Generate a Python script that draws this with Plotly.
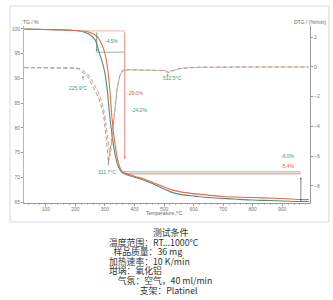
import plotly.graph_objects as go

# ---------------- data ----------------
tg_green_T = [27, 100, 200, 222, 245, 266, 279, 290, 300, 308, 316, 323, 330, 337, 343, 350, 357,
              370, 384, 424, 458, 480, 502, 520, 535, 560, 603, 650, 737, 800, 862, 963, 990]
tg_green = [100.0, 99.9, 99.7, 99.5, 99.0, 97.9, 95.5, 93.5, 91.0, 87.5, 82.5, 79.0, 76.0, 73.8,
            72.5, 71.6, 71.0, 70.6, 70.3, 69.6, 68.8, 68.2, 67.6, 67.1, 66.8, 66.5, 66.2, 65.9,
            65.6, 65.4, 65.3, 65.1, 65.1]

tg_red_T = [27, 200, 222, 250, 273, 290, 300, 310, 316, 323, 330, 337, 345, 352, 360, 375, 400,
            430, 460, 490, 510, 530, 560, 600, 650, 700, 800, 900, 963, 990]
tg_red = [100.0, 99.7, 99.6, 99.3, 98.5, 96.8, 95.0, 91.5, 88.0, 82.5, 78.5, 75.5, 73.0, 71.8,
          71.1, 70.7, 70.2, 69.7, 69.0, 68.3, 67.8, 67.4, 67.0, 66.7, 66.4, 66.1, 65.9, 65.7,
          65.5, 65.5]

dtg_green_T = [27, 100, 200, 215, 222, 226, 232, 242, 256, 270, 279, 290, 296, 303, 308, 312,
               316, 320, 325, 330, 336, 342, 350, 358, 370, 450, 500, 512, 525, 545, 600, 700, 990]
dtg_green = [-0.05, -0.05, -0.08, -0.15, -0.3, -0.4, -0.45, -0.65, -1.2, -1.7, -2.1, -2.8, -3.3,
             -4.6, -5.7, -6.4, -5.9, -5.2, -4.4, -3.5, -2.4, -1.4, -0.6, -0.25, -0.18, -0.2,
             -0.25, -0.38, -0.3, -0.12, -0.03, 0.0, 0.0]

dtg_red_T = [27, 200, 218, 228, 240, 250, 262, 275, 285, 295, 302, 308, 313, 317, 321, 325, 330,
             335, 341, 348, 355, 365, 450, 500, 515, 530, 560, 620, 990]
dtg_red = [-0.03, -0.06, -0.12, -0.3, -0.45, -0.7, -1.1, -1.6, -2.1, -2.8, -3.6, -4.6, -5.6,
           -6.0, -5.5, -4.7, -3.6, -2.5, -1.5, -0.8, -0.4, -0.2, -0.2, -0.22, -0.32, -0.22,
           -0.08, -0.02, 0.0]

x_ticks = [100, 200, 300, 400, 500, 600, 700, 800, 900]
tg_ticks = [65, 70, 75, 80, 85, 90, 95, 100]
dtg_ticks = [2, 0, -2, -4, -6, -8]

conditions = ["测试条件", "温度范围：RT...1000°C", "样品质量：36 mg", "加热速率：10 K/min",
              "坩埚：氧化铝", "气氛：空气，40 ml/min", "支架：Platinel"]

# ---------------- styles ----------------
RED = "#e8684f"
GREEN = "#4e8f73"
RED_D = "#e6907c"
GREEN_D = "#8fa79c"
TXT_G = "#3f9a7a"
TXT_R = "#e0583e"
AX = "#9a9a9a"
TICKF = dict(size=5, color="#777777", family="Liberation Sans")

W, H = 333, 300
L, R, T, B = 22, 23, 26, 97
PW, PH = W - L - R, H - T - B


def px(xp):
    return (xp - L) / PW


def py(yp):
    return (H - B - yp) / PH


fig = go.Figure()
fig.add_trace(go.Scatter(x=dtg_green_T, y=dtg_green, yaxis="y2", mode="lines",
                         line=dict(color=GREEN_D, width=1, dash="4px,2.5px"), showlegend=False))
fig.add_trace(go.Scatter(x=dtg_red_T, y=dtg_red, yaxis="y2", mode="lines",
                         line=dict(color=RED_D, width=1, dash="4px,2.5px"), showlegend=False))
fig.add_trace(go.Scatter(x=tg_green_T, y=tg_green, mode="lines", line_shape="spline",
                         line=dict(color=GREEN, width=1.1), showlegend=False))
fig.add_trace(go.Scatter(x=tg_red_T, y=tg_red, mode="lines", line_shape="spline",
                         line=dict(color=RED, width=1.1), showlegend=False))

shapes = [
    # outer frame
    dict(type="rect", xref="paper", yref="paper", x0=px(8), x1=px(329), y0=py(222), y1=py(6),
         line=dict(color="#d9d9d9", width=1), layer="below"),
    # step lines
    dict(type="line", x0=215, x1=367, y0=99.6, y1=99.6, line=dict(color="#d3aa9e", width=0.8)),
    dict(type="line", x0=272, x1=367, y0=95.3, y1=95.3, line=dict(color="#6fa895", width=0.8)),
    dict(type="line", x0=355, x1=963, y0=71.1, y1=71.1, line=dict(color="#6fa895", width=0.8)),
    dict(type="line", x0=360, x1=963, y0=70.7, y1=70.7, line=dict(color=RED, width=0.8)),
]

ann = []


def arrow(x, y, ax, ay, color, yref="y", side="end", width=0.8, size=0.55):
    ann.append(dict(x=x, y=y, ax=ax, ay=ay, xref="x", yref=yref, axref="x", ayref=yref,
                    text="", showarrow=True, arrowhead=2, arrowsize=size, arrowwidth=width,
                    arrowcolor=color, arrowside=side))


arrow(367, 73.7, 367, 99.6, RED)
arrow(272, 95.4, 272, 99.6, GREEN)
arrow(963, 65.2, 963, 70.3, "#555555", side="end+start", width=0.7)
arrow(226, -0.6, 226, -1.0, "#6a8a80", yref="y2", width=0.6, size=0.6)
arrow(312, -6.6, 312, -6.0, "#777777", yref="y2", width=0.6, size=0.6)
arrow(512, -0.45, 512, -0.75, "#6a8a80", yref="y2", width=0.6, size=0.6)


def label(x, y, text, color, size=5, yref="y"):
    ann.append(dict(x=x, y=y, xref="x", yref=yref, text=text, showarrow=False,
                    font=dict(size=size, color=color, family="Liberation Sans")))


label(323, 97.6, "-4.5%", TXT_G)
label(400, 87.0, "-29.0%", TXT_R)
label(414, 83.6, "-24.2%", TXT_G)
label(919, 74.4, "-6.0%", TXT_G)
label(919, 72.3, "-5.4%", TXT_R)
label(212, 88.1, "225.9°C", TXT_G)
label(306, 71.1, "311.7°C", TXT_G)
label(528, 90.0, "512.5°C", TXT_G)

# axis titles
ann.append(dict(x=px(19), y=py(17), xref="paper", yref="paper", text="TG / %", showarrow=False,
                xanchor="left", font=dict(size=5, color="#666666", family="Liberation Sans")))
ann.append(dict(x=px(292), y=py(17), xref="paper", yref="paper", text="DTG / (%/min)",
                showarrow=False, xanchor="left",
                font=dict(size=5, color="#666666", family="Liberation Sans")))
ann.append(dict(x=px(163), y=py(217.2), xref="paper", yref="paper", text="Temperature /°C",
                showarrow=False, borderpad=0,
                font=dict(size=5, color="#666666", family="Liberation Sans")))

# test conditions text: one block, lines indented with en spaces, glyphs on ~9.6px pitch
indent = [10, 0, 1, 0, 0, 2, 7]
body = "<br>".join('<span style="font-size:8.8px">' + "\u2002" * n + t + "</span>"
                   for n, t in zip(indent, conditions))
ann.append(dict(x=px(107), y=py(261), xref="paper", yref="paper", text=body,
                showarrow=False, xanchor="left", yanchor="middle", align="left", borderpad=0,
                font=dict(size=7.4, color="#333333", family="Noto Sans CJK SC")))

fig.update_layout(
    width=W, height=H, margin=dict(l=L, r=R, t=T, b=B, pad=0),
    paper_bgcolor="white", plot_bgcolor="white",
    shapes=shapes, annotations=ann, showlegend=False,
    xaxis=dict(range=[26, 994], tickvals=x_ticks, ticks="outside", ticklen=2, tickcolor=AX,
               showline=True, linecolor=AX, linewidth=1, showgrid=False, zeroline=False,
               tickfont=TICKF, ticklabelstandoff=-1,
               minor=dict(ticks="outside", dtick=20, ticklen=1, tickcolor="#bbbbbb")),
    yaxis=dict(range=[64.8, 100.6], tickvals=tg_ticks, ticks="outside", ticklen=2, tickcolor=AX,
               showline=True, linecolor="#f0a090", linewidth=1, showgrid=False, zeroline=False,
               tickfont=TICKF),
    yaxis2=dict(range=[-9.16, 2.76], tickvals=dtg_ticks, overlaying="y", side="right",
                ticks="outside", ticklen=2, tickcolor=AX, showline=True, linecolor=AX,
                linewidth=1, showgrid=False, zeroline=False, tickfont=TICKF),
)

fig.write_html("out.html")
